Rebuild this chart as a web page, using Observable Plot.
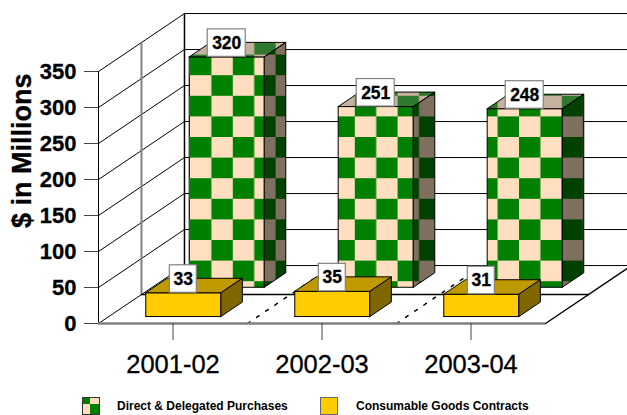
<!DOCTYPE html>
<html>
<head>
<meta charset="utf-8">
<script src="https://cdn.jsdelivr.net/npm/d3@7"></script>
<script src="https://cdn.jsdelivr.net/npm/@observablehq/plot@0.6"></script>
<style>
  html, body { margin: 0; padding: 0; background: #fff; overflow: hidden; }
  body { width: 627px; height: 415px; position: relative; font-family: "Liberation Sans", Arial, sans-serif; }
  #chart svg { display: block; overflow: hidden; }
  #chart svg text { stroke: #000; stroke-width: 0.3px; }
  .legend { position: absolute; left: 0; top: 392px; width: 627px; height: 23px; overflow: hidden; }
  .legend span { position: absolute; top: 7px; font-size: 12px; font-weight: bold; line-height: 14px; white-space: nowrap; color: #000; }
  .legend i { position: absolute; top: 5px; width: 18px; height: 18px; box-sizing: border-box; border: 1px solid #333; }
  .legend .checks { left: 82px; background: conic-gradient(at 42% 38%, #ffdfbf 0 25%, #008000 25% 50%, #ffdfbf 50% 75%, #008000 75% 100%); }
  .legend .gold { left: 320px; background: #ffcc00; border-color: #666; }
</style>
</head>
<body>
<div id="chart"></div>
<div class="legend">
  <i class="checks"></i><span style="left:117px">Direct &amp; Delegated Purchases</span>
  <i class="gold"></i><span style="left:356px">Consumable Goods Contracts</span>
</div>
<script>
// Spending by fiscal year, in millions of dollars
const categories = ["2001-02", "2002-03", "2003-04"];
const directPurchases = [320, 251, 248];
const consumableGoods = [33, 35, 31];
const valueTicks = [0, 50, 100, 150, 200, 250, 300, 350];

// Oblique projection: a unit of depth moves a point right and up the axes
const depthX = 0.577;
const depthY = 80.5;
const project = (c, v, d) => ({x: c + d * depthX, y: v + d * depthY});

const path = (points) => points.map(([c, v, d]) => project(c, v, d));
const closed = (points) => [...points, points[0]];

// The three visible faces of a bar standing in a depth band
function faces(i, value, near, far) {
  const a = i + 0.248, b = i + 0.752;
  return {
    front: closed([[a, 0, near], [b, 0, near], [b, value, near], [a, value, near]]),
    roof: closed([[a, value, near], [b, value, near], [b, value, far], [a, value, far]]),
    side: closed([[b, 0, near], [b, 0, far], [b, value, far], [b, value, near]])
  };
}

const backRow = {near: 0.625, far: 0.875};
const frontRow = {near: 0.12, far: 0.37};
const line = (points, options) => Plot.line(path(points), {x: "x", y: "y", ...options});

function barMarks(values, row, frontFill, roofFill, sideFill) {
  return values.flatMap((v, i) => {
    const f = faces(i, v, row.near, row.far);
    const outline = {stroke: "#000", strokeWidth: 1};
    const fillFor = (fill) => (typeof fill === "function" ? fill(i) : fill);
    const marks = [];
    marks.push(line(f.front, {fill: fillFor(frontFill), ...outline}));
    if (row === backRow) {
      marks.push(line(f.roof, {fill: fillFor(frontFill)}));
      marks.push(line(f.side, {fill: fillFor(frontFill)}));
    }
    marks.push(line(f.roof, {...roofFill, ...outline}));
    marks.push(line(f.side, {...sideFill, ...outline}));
    return marks;
  });
}

function labelMarks(values, row, halfWidth) {
  const rows = values.map((v, i) => ({...project(i + 0.5, v, row.near), v}));
  return [
    Plot.rect(rows, {
      x1: "x", x2: "x", y1: "y", y2: "y",
      insetLeft: -halfWidth, insetRight: -halfWidth, insetTop: -27.5,
      fill: "#fff", stroke: "#808080", strokeWidth: 1.2
    }),
    Plot.text(rows, {
      x: "x", y: "y", text: "v", dy: -13.5,
      fontSize: 17.5, fontWeight: "bold", fill: "#000"
    })
  ];
}

const ceiling = valueTicks[valueTicks.length - 1];
const chart = Plot.plot({
  width: 627,
  height: 392,
  marginLeft: 98,
  marginRight: 82,
  marginTop: 71,
  marginBottom: 69,
  x: {domain: [0, categories.length]},
  y: {domain: [0, ceiling]},
  style: {fontFamily: "'Liberation Sans', Arial, sans-serif", background: "#fff"},
  marks: [
    // Side wall and back wall grid
    ...valueTicks.map((v) => line([[0, v, 0], [0, v, 1], [categories.length, v, 1]], {stroke: "#000", strokeWidth: 1})),
    line([[0, 0, 1], [0, ceiling, 1]], {stroke: "#000"}),
    line([[0, 0, 0.5], [0, ceiling, 0.5]], {stroke: "#808080", strokeWidth: 2}),
    // Floor
    line([[0, 0, 0.5], [categories.length, 0, 0.5]], {stroke: "#000"}),
    line([[categories.length, 0, 0], [categories.length, 0, 1]], {stroke: "#000"}),
    ...[1, 2].map((c) => line([[c, 0, 0], [c, 0, 1]], {stroke: "#000", strokeDasharray: "3 8"})),
    // Axes
    Plot.ruleX([0], {y1: 0, y2: ceiling, stroke: "#000"}),
    Plot.axisY(valueTicks, {
      anchor: "left", label: null, tickSize: 14, tickPadding: 8,
      stroke: "#444", fill: "#000", fontSize: 22, fontWeight: "bold"
    }),
    Plot.ruleY([0], {x1: 0, x2: categories.length, stroke: "#808080", strokeWidth: 2.5}),
    Plot.axisX(categories.map((_, i) => i + 0.5), {
      anchor: "bottom", label: null, tickSize: 17, tickPadding: 14,
      tickFormat: (d) => categories[Math.floor(d)],
      stroke: "#444", fill: "#000", fontSize: 25.5
    }),
    Plot.text(["$ in Millions"], {
      frameAnchor: "left", y: () => 240, rotate: -90, dx: -76,
      textAnchor: "middle", lineAnchor: "middle",
      fontSize: 27, fontWeight: "bold", fill: "#000"
    }),
    // Bars, back row first
    ...barMarks(directPurchases, backRow, (i) => `url(#checks-${i})`,
      {fill: "#707070", fillOpacity: 0.41}, {fill: "#000", fillOpacity: 0.5}),
    ...barMarks(consumableGoods, frontRow, "#ffcc00",
      {fill: "#bf9900"}, {fill: "#7f6600"}),
    ...labelMarks(directPurchases, backRow, 19),
    ...labelMarks(consumableGoods, frontRow, 13.5)
  ]
});

// Checkerboard tiles, one per bar so that each starts at its own column offset
const tileW = 21.4, tileH = 20.6;
const tileX = [189.5, 354.3, 518.5];
const tileY = 95.3;
const defs = d3.select(chart).insert("defs", ":first-child");
tileX.forEach((ox, i) => {
  const p = defs.append("pattern")
    .attr("id", `checks-${i}`)
    .attr("patternUnits", "userSpaceOnUse")
    .attr("width", 2 * tileW).attr("height", 2 * tileH)
    .attr("patternTransform", `translate(${ox} ${tileY})`);
  p.append("rect").attr("width", 2 * tileW).attr("height", 2 * tileH).attr("fill", "#ffdfbf");
  p.append("rect").attr("width", tileW).attr("height", tileH).attr("fill", "#008000");
  p.append("rect").attr("x", tileW).attr("y", tileH).attr("width", tileW).attr("height", tileH).attr("fill", "#008000");
});

document.getElementById("chart").append(chart);
</script>
</body>
</html>
